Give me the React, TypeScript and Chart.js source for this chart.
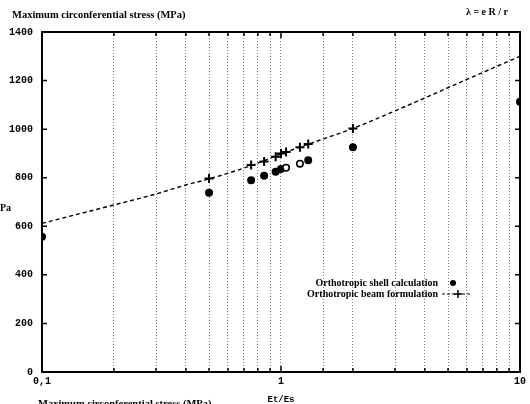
import React, { useEffect, useRef } from "react";
import { Chart, registerables } from "chart.js";

Chart.register(...registerables);

// Orthotropic beam formulation: dashed curve samples
const beamCurveX = [0.1, 0.2, 0.3, 0.4, 0.5, 0.75, 1, 1.3, 2, 3.76, 6, 10];
const beamCurveY = [612, 688, 733, 770, 795, 850, 898, 938, 1003, 1117, 1205, 1300];

// Orthotropic beam formulation: "+" markers
const beamX = [0.5, 0.75, 0.85, 0.95, 1.0, 1.05, 1.2, 1.3, 2];
const beamY = [797, 852, 867, 886, 900, 906, 925, 939, 1003];

// Orthotropic shell calculation: dots
const shellX = [0.1, 0.5, 0.75, 0.85, 0.95, 1.0, 1.05, 1.2, 1.3, 2, 10];
const shellY = [557, 738, 790, 808, 825, 836, 841, 858, 872, 925, 1113];
const shellOpen = [false, false, false, false, false, false, true, true, false, false, false];

const xMajorLabels: Record<string, string> = { "0.1": "0,1", "1": "1", "10": "10" };
const yTicksStep = 200;

const titleText = "Maximum circonferential stress (MPa)";
const lambdaText = "\u03bb = e R / r";
const xTitle = "Et/Es";
const legendShell = "Orthotropic shell calculation";
const legendBeam = "Orthotropic beam formulation";

const serifBold = "bold 10px 'Liberation Serif', 'DejaVu Serif', serif";

const framePlugin = {
  id: "frame",
  afterDraw(chart: any) {
    const { ctx, chartArea: a, scales } = chart;
    ctx.save();
    // frame
    ctx.strokeStyle = "#000";
    ctx.lineWidth = 2;
    ctx.strokeRect(a.left, a.top, a.right - a.left, a.bottom - a.top);
    // inward ticks y
    ctx.lineWidth = 1.5;
    scales.y.ticks.forEach((t: any) => {
      const py = scales.y.getPixelForValue(t.value);
      ctx.beginPath();
      ctx.moveTo(a.left, py);
      ctx.lineTo(a.left + 5, py);
      ctx.moveTo(a.right, py);
      ctx.lineTo(a.right - 5, py);
      ctx.stroke();
    });
    // inward ticks x
    scales.x.ticks.forEach((t: any) => {
      const px = scales.x.getPixelForValue(t.value);
      const major = xMajorLabels[String(t.value)] !== undefined;
      const len = major ? 6 : 4;
      ctx.beginPath();
      ctx.moveTo(px, a.bottom);
      ctx.lineTo(px, a.bottom - len);
      ctx.moveTo(px, a.top);
      ctx.lineTo(px, a.top + len);
      ctx.stroke();
    });
    // texts
    ctx.fillStyle = "#000";
    ctx.textBaseline = "alphabetic";
    ctx.textAlign = "left";
    ctx.font = "bold 10.5px 'Liberation Serif', 'DejaVu Serif', serif";
    ctx.fillText(titleText, 12, 18);
    ctx.font = serifBold;
    ctx.fillText(lambdaText, 466, 15);
    ctx.fillText("Pa", 0, 211);
    ctx.font = "bold 10.5px 'Liberation Serif', 'DejaVu Serif', serif";
    ctx.fillText(titleText, 38, 407);

    // legend
    ctx.font = serifBold;
    ctx.textAlign = "right";
    ctx.fillText(legendShell, 438, 286);
    ctx.fillText(legendBeam, 438, 297);
    // shell marker
    ctx.beginPath();
    ctx.arc(453, 283, 3, 0, Math.PI * 2);
    ctx.fill();
    // beam sample
    ctx.lineWidth = 1.2;
    ctx.setLineDash([3, 2]);
    ctx.beginPath();
    ctx.moveTo(442, 294);
    ctx.lineTo(472, 294);
    ctx.stroke();
    ctx.setLineDash([]);
    ctx.lineWidth = 1.5;
    ctx.beginPath();
    ctx.moveTo(454, 294);
    ctx.lineTo(462, 294);
    ctx.moveTo(458, 290);
    ctx.lineTo(458, 298);
    ctx.stroke();
    ctx.restore();
  },
};

export default function App() {
  const ref = useRef<HTMLCanvasElement>(null);
  useEffect(() => {
    document.body.style.margin = "0";
    const ctx = ref.current!.getContext("2d")!;
    const chart = new Chart(ctx, {
      type: "scatter",
      data: {
        datasets: [
          {
            label: "curve",
            data: beamCurveX.map((x, i) => ({ x, y: beamCurveY[i] })),
            showLine: true,
            borderColor: "#000",
            borderWidth: 1.4,
            borderDash: [4, 3],
            pointRadius: 0,
            cubicInterpolationMode: "monotone",
            fill: false,
          },
          {
            label: legendBeam,
            data: beamX.map((x, i) => ({ x, y: beamY[i] })),
            showLine: false,
            pointStyle: "cross",
            pointRadius: 4.5,
            borderColor: "#000",
            pointBorderWidth: 2,
          },
          {
            label: legendShell,
            data: shellX.map((x, i) => ({ x, y: shellY[i] })),
            showLine: false,
            pointStyle: "circle",
            pointRadius: 3.2,
            borderColor: "#000",
            pointBorderWidth: 1.6,
            backgroundColor: shellOpen.map((o) => (o ? "#fff" : "#000")),
          },
        ],
      },
      options: {
        animation: false,
        responsive: false,
        layout: { padding: { top: 32, right: 8, left: 0, bottom: 0 } },
        plugins: { legend: { display: false }, tooltip: { enabled: false } },
        scales: {
          x: {
            type: "logarithmic",
            min: 0.1,
            max: 10,
            afterFit: (s: any) => {
              s.height = 32;
            },
            border: { display: false, dash: [1, 2] },
            grid: {
              drawTicks: false,
              color: "rgba(0,0,0,0.5)",
              lineWidth: 1,
            },
            ticks: {
              autoSkip: false,
              maxRotation: 0,
              padding: 4,
              color: "#000",
              font: { family: "'Liberation Mono', 'DejaVu Sans Mono', monospace", size: 10, weight: "bold", lineHeight: 1 },
              callback: (v: any) => {
                const k = String(Number(v));
                return xMajorLabels[k] !== undefined ? xMajorLabels[k] : "";
              },
            },
            title: {
              display: true,
              text: xTitle,
              color: "#000",
              padding: { top: 2, bottom: 0 },
              font: { family: "'Liberation Mono', 'DejaVu Sans Mono', monospace", size: 9, weight: "bold", lineHeight: 1 },
            },
          },
          y: {
            min: 0,
            max: 1400,
            afterFit: (s: any) => {
              s.width = 42;
            },
            border: { display: false },
            grid: { drawOnChartArea: false, drawTicks: false },
            ticks: {
              stepSize: yTicksStep,
              padding: 9,
              color: "#000",
              font: { family: "'Liberation Mono', 'DejaVu Sans Mono', monospace", size: 10, weight: "bold" },
              callback: (v: any) => String(v),
            },
          },
        },
      },
      plugins: [framePlugin],
    });
    return () => chart.destroy();
  }, []);
  return <canvas ref={ref} width={530} height={404} style={{ display: "block" }} />;
}
